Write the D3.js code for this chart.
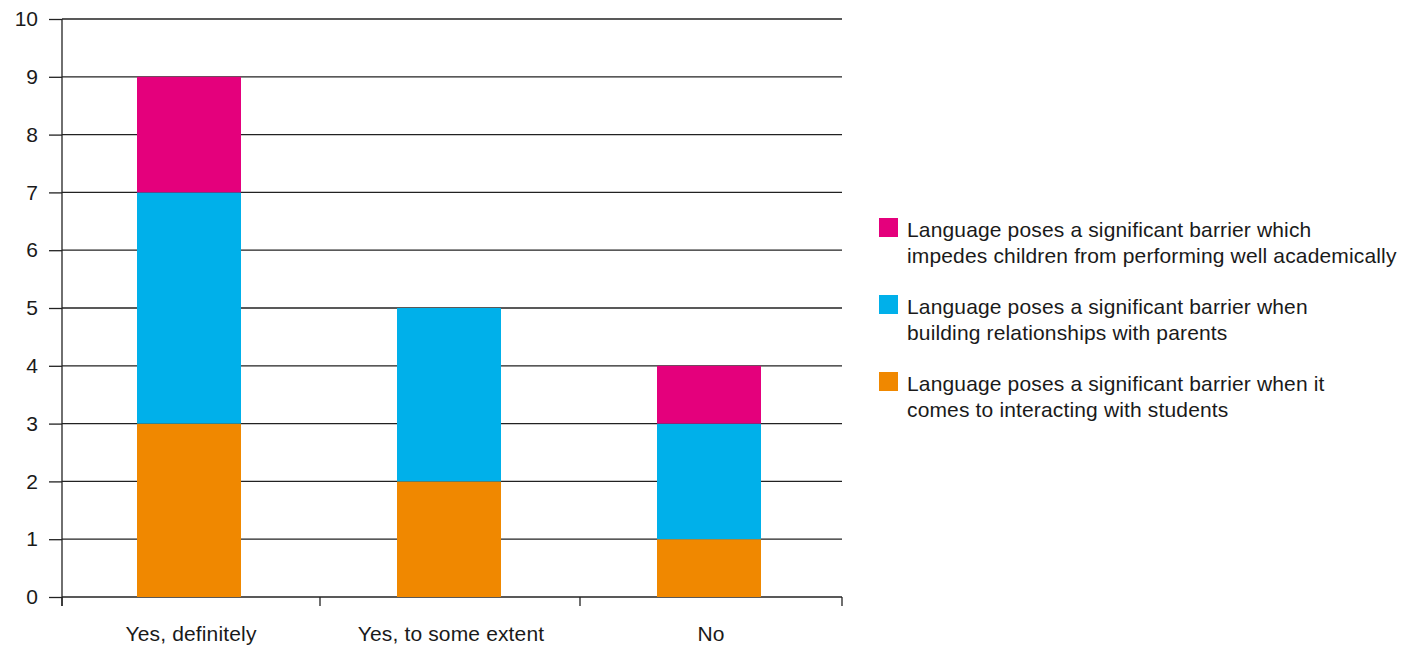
<!DOCTYPE html>
<html>
<head>
<meta charset="utf-8">
<script src="https://cdn.jsdelivr.net/npm/d3@7"></script>
<style>
  html, body { margin: 0; padding: 0; background: #fff; }
  svg { display: block; font-family: "Liberation Sans", Arial, Helvetica, sans-serif; }
</style>
</head>
<body>
<svg id="chart" width="1402" height="650"></svg>
<script>
// Response categories along the x axis
const categories = ["Yes, definitely", "Yes, to some extent", "No"];

// Stacked series, bottom to top
const seriesNames = [
  "Language poses a significant barrier when it comes to interacting with students",
  "Language poses a significant barrier when building relationships with parents",
  "Language poses a significant barrier which impedes children from performing well academically"
];
const studentsValues = [3, 2, 1];
const parentsValues = [4, 3, 2];
const academicValues = [2, 0, 1];

const seriesColors = ["#F08800", "#00B0EA", "#E4007C"];

// Legend lines (top to bottom), each entry wrapped onto two lines
const legendLines = [
  ["Language poses a significant barrier which", "impedes children from performing well academically"],
  ["Language poses a significant barrier when", "building relationships with parents"],
  ["Language poses a significant barrier when it", "comes to interacting with students"]
];
const legendColors = ["#E4007C", "#00B0EA", "#F08800"];

const yTicks = [0, 1, 2, 3, 4, 5, 6, 7, 8, 9, 10];

const fontSize = 21;
const tracking = 0.15;
const ink = "#1a1a1a";

const svg = d3.select("#chart");
const plotLeft = 62, plotRight = 842, plotTop = 19, plotBottom = 597;

const x = d3.scaleBand().domain(categories).range([plotLeft, plotRight]).paddingInner(0.6).paddingOuter(0.3);
const y = d3.scaleLinear().domain([0, 10]).range([plotBottom, plotTop]);

// Horizontal gridlines
svg.append("g")
  .selectAll("line")
  .data(yTicks)
  .join("line")
  .attr("x1", plotLeft).attr("x2", plotRight)
  .attr("y1", d => y(d)).attr("y2", d => y(d))
  .attr("stroke", "#222").attr("stroke-width", 1.3);

// Build stacked data
const rows = categories.map((c, i) => ({
  cat: c,
  s0: studentsValues[i],
  s1: parentsValues[i],
  s2: academicValues[i]
}));
const stacked = d3.stack().keys(["s0", "s1", "s2"])(rows);

svg.append("g")
  .selectAll("g")
  .data(stacked)
  .join("g")
  .attr("fill", (d, i) => seriesColors[i])
  .selectAll("rect")
  .data(d => d.filter(p => p[1] > p[0]))
  .join("rect")
  .attr("x", d => x(d.data.cat) - 3)
  .attr("width", x.bandwidth())
  .attr("y", d => y(d[1]))
  .attr("height", d => y(d[0]) - y(d[1]));

// Y axis
const yAxis = svg.append("g").attr("transform", `translate(${plotLeft},0)`)
  .call(d3.axisLeft(y).tickValues(yTicks).tickSize(13).tickPadding(11).tickFormat(d3.format("d")));
yAxis.select(".domain").remove();
yAxis.selectAll(".tick line").attr("stroke", "#222").attr("stroke-width", 1.3);
yAxis.selectAll(".tick text").attr("font-size", fontSize).attr("fill", ink)
  .attr("font-family", "'Liberation Sans', Arial, sans-serif");
svg.append("line")
  .attr("x1", plotLeft).attr("x2", plotLeft).attr("y1", plotTop).attr("y2", plotBottom + 9)
  .attr("stroke", "#222").attr("stroke-width", 1.3);

// X axis: boundary ticks between categories
const boundaries = [plotLeft, 320, 580, plotRight];
svg.append("g").selectAll("line")
  .data(boundaries)
  .join("line")
  .attr("x1", d => d).attr("x2", d => d)
  .attr("y1", plotBottom).attr("y2", plotBottom + 9)
  .attr("stroke", "#222").attr("stroke-width", 1.3);

svg.append("g").selectAll("text")
  .data(categories)
  .join("text")
  .attr("x", d => x(d) + x.bandwidth() / 2 - 1)
  .attr("y", 641)
  .attr("text-anchor", "middle")
  .attr("font-size", fontSize)
  .attr("letter-spacing", tracking)
  .attr("fill", ink)
  .text(d => d);

// Legend
const legend = svg.append("g");
const legendTop = [218, 295, 372];
legendLines.forEach((lines, i) => {
  legend.append("rect")
    .attr("x", 879).attr("y", legendTop[i])
    .attr("width", 19).attr("height", 19)
    .attr("fill", legendColors[i]);
  const t = legend.append("text")
    .attr("x", 907).attr("y", legendTop[i] + 18.5)
    .attr("font-size", fontSize)
    .attr("letter-spacing", tracking)
    .attr("fill", ink);
  lines.forEach((ln, j) => {
    t.append("tspan").attr("x", 907).attr("dy", j === 0 ? 0 : 26).text(ln);
  });
});
</script>
</body>
</html>
